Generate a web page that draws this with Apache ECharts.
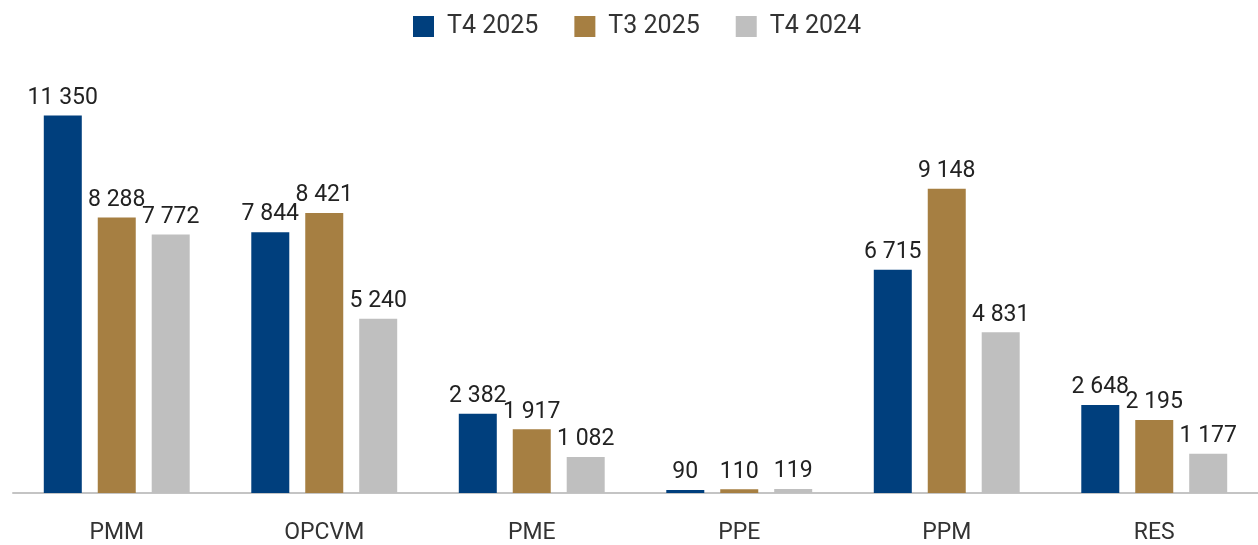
<!DOCTYPE html>
<html>
<head>
<meta charset="utf-8">
<style>
  html, body { margin: 0; padding: 0; background: #fff; }
  #bar-chart { width: 1258px; height: 545px; }
</style>
<script src="https://cdn.jsdelivr.net/npm/echarts@6/dist/echarts.min.js"></script>
</head>
<body>
<div id="bar-chart"></div>
<script>
// data
var categories = ['PMM', 'OPCVM', 'PME', 'PPE', 'PPM', 'RES'];
var t4_2025 = [11350, 7844, 2382, 90, 6715, 2648];
var t3_2025 = [8288, 8421, 1917, 110, 9148, 2195];
var t4_2024 = [7772, 5240, 1082, 119, 4831, 1177];
var seriesNames = ['T4 2025', 'T3 2025', 'T4 2024'];
var colors = ['#003f7d', '#a67f42', '#bfbfbf'];

var fontFam = 'Roboto, "Noto Sans", sans-serif';

// 11 350 style
function spaced(v) {
    return String(v).replace(/\B(?=(\d{3})+(?!\d))/g, ' ');
}

var dom = document.getElementById("bar-chart");
var myChart = echarts.init(dom);
var option = null;

function makeSeries(name, data, color) {
    return {
        name: name,
        type: 'bar',
        barWidth: 38,
        barGap: '42%',
        itemStyle: { color: color },
        label: {
            show: true,
            position: 'top',
            distance: 6,
            color: '#222',
            fontFamily: fontFam,
            fontSize: 23,
            formatter: function (p) { return spaced(p.value); }
        },
        data: data
    };
}

option = {
    animation: false,
    color: colors,
    grid: {
        left: 13,
        right: -2,
        top: 94,
        bottom: 52,
        containLabel: false
    },
    legend: {
        top: 14,
        left: 413,
        padding: 0,
        itemWidth: 21,
        itemHeight: 21,
        itemGap: 36,
        icon: 'rect',
        textStyle: {
            color: '#333',
            fontFamily: fontFam,
            fontSize: 25,
            padding: [0, 0, 0, 8]
        },
        data: seriesNames
    },
    xAxis: {
        type: 'category',
        data: categories,
        axisTick: { show: false },
        axisLine: {
            lineStyle: { color: '#c4c4c4', width: 2 }
        },
        axisLabel: {
            color: '#333',
            fontFamily: fontFam,
            fontSize: 23,
            margin: 29
        }
    },
    yAxis: {
        type: 'value',
        min: 0,
        max: 12000,
        show: false,
        splitLine: { show: false }
    },
    series: [
        makeSeries(seriesNames[0], t4_2025, colors[0]),
        makeSeries(seriesNames[1], t3_2025, colors[1]),
        makeSeries(seriesNames[2], t4_2024, colors[2])
    ]
};

if (option && typeof option === "object") {
    myChart.setOption(option, true);
}
</script>
</body>
</html>
